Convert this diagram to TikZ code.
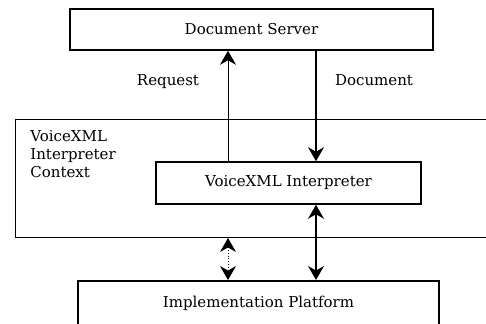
\documentclass[tikz,border=0pt]{standalone}
\usepackage{fontspec}
\setmainfont{DejaVu Serif}
\usepackage{tikz}
\usetikzlibrary{arrows.meta}
\tikzstyle{every node}=[font=\fontsize{7.5}{9}\selectfont]
\tikzstyle{box}=[draw,rectangle,line width=0.8pt,inner sep=0pt]
\tikzstyle{conn}=[line width=0.7pt,-{Stealth[length=7pt,width=8pt]}]
\tikzstyle{thinconn}=[line width=0.4pt,-{Stealth[length=7pt,width=8pt]}]

\begin{document}
\begin{tikzpicture}[x=0.5pt,y=-0.5pt]
\clip (0,0) rectangle (486,323);
\fill[white] (0,0) rectangle (486,323);
\node[box, minimum width=181.5pt, minimum height=20.5pt] (server) at (251.5,29.5) {Document Server};
\node[draw, line width=0.5pt, anchor=north west, minimum width=245pt, minimum height=59pt, inner sep=0pt] (context) at (15,119) {};
\node[anchor=north west, align=left, inner sep=0pt] (ctxlabel) at (30,130) {VoiceXML\\Interpreter\\Context};
\node[box, minimum width=132.5pt, minimum height=21pt] (interp) at (288.5,183) {VoiceXML Interpreter};
\node[box, anchor=north, minimum width=180.5pt, minimum height=23pt] (platform) at (258.5,280) {Implementation Platform};
\coordinate (rq) at (228,0);
\coordinate (dc) at (316,0);
\draw[thinconn] (interp.north -| rq) -- (server.south -| rq);
\draw[conn] (server.south -| dc) -- (interp.north -| dc);
\node (reqlabel) at (168,82) {Request};
\node (doclabel) at (374,80) {Document};
\draw[thinconn, densely dotted, {Stealth[length=7pt,width=8pt]}-{Stealth[length=7pt,width=8pt]}] (context.south -| rq) -- (platform.north -| rq);
\draw[conn, {Stealth[length=7pt,width=8pt]}-{Stealth[length=7pt,width=8pt]}] (interp.south -| dc) -- (platform.north -| dc);
\end{tikzpicture}
\end{document}
